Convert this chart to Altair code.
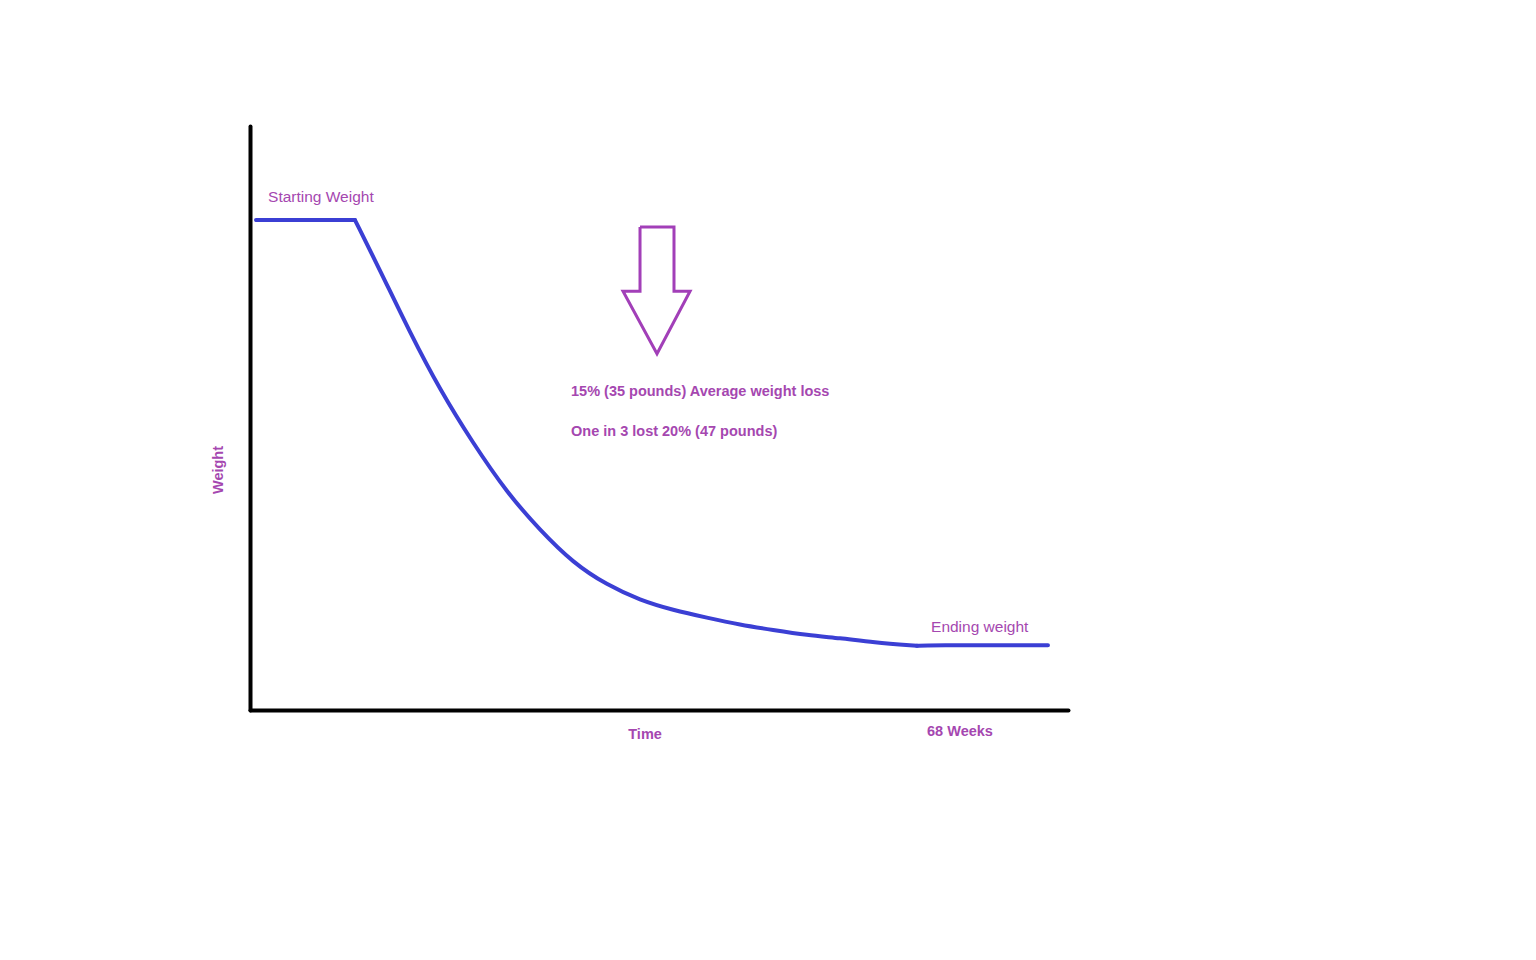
import altair as alt
import pandas as pd

# Weight-loss curve (time units along x, weight units along y), split into phases
curve_x = [0.57, 10.01,
           10.01, 12.40, 15.26, 18.12, 21.26, 24.51, 27.65, 30.80, 34.04, 37.19,
           40.34, 43.58, 46.72, 49.87, 53.11, 56.26, 59.41, 63.60,
           63.60, 64.56, 76.09]
curve_y = [83.9, 83.9,
           83.9, 75.3, 64.6, 54.8, 45.7, 37.2, 30.8, 25.2, 21.4, 18.8,
           17.1, 15.8, 14.6, 13.7, 12.8, 12.3, 11.6, 11.0,
           11.0, 11.1, 11.1]
curve_phase = ["start"] * 2 + ["loss"] * 18 + ["end"] * 3

# Down arrow outline (closed path)
arrow_x = [37.19, 40.43, 40.43, 41.96, 38.81, 35.57, 37.19, 37.19]
arrow_y = [82.7, 82.7, 71.7, 71.7, 61.0, 71.7, 71.7, 82.7]

# Annotations
reg_text = ["Starting Weight", "Ending weight"]
reg_x = [1.72, 64.94]
reg_y = [87.0, 13.4]

note_text = ["15% (35 pounds) Average weight loss", "One in 3 lost 20% (47 pounds)"]
note_x = [30.61, 30.61]
note_y = [53.8, 46.9]

center_text = ["68 Weeks", "Time"]
center_x = [67.7, 37.67]
center_y = [-4.45, -4.97]

side_text = ["Weight"]
side_x = [-2.57]
side_y = [41.1]

PURPLE = "#a547b0"
ARROW = "#a23fb8"
BLUE = "#3b3fd4"
FONT = "Liberation Sans"

xs = alt.Scale(domain=[0, 78], nice=False, zero=False)
ys = alt.Scale(domain=[0, 100], nice=False, zero=False)
ax = alt.Axis(title="", domain=True, domainColor="black", domainWidth=4,
              domainCap="round", ticks=False, labels=False, grid=False)

def X():
    return alt.X("x:Q", scale=xs, axis=ax)

def Y():
    return alt.Y("y:Q", scale=ys, axis=ax)

curve_df = pd.DataFrame({"x": curve_x, "y": curve_y, "phase": curve_phase,
                         "i": list(range(len(curve_x)))})
arrow_df = pd.DataFrame({"x": arrow_x, "y": arrow_y, "i": list(range(len(arrow_x)))})
reg_df = pd.DataFrame({"x": reg_x, "y": reg_y, "t": reg_text})
note_df = pd.DataFrame({"x": note_x, "y": note_y, "t": note_text})
center_df = pd.DataFrame({"x": center_x, "y": center_y, "t": center_text})
side_df = pd.DataFrame({"x": side_x, "y": side_y, "t": side_text})

curve = alt.Chart(curve_df).mark_line(
    color=BLUE, strokeWidth=4, strokeCap="round", strokeJoin="round",
    interpolate="basis", clip=False
).encode(x=X(), y=Y(), detail="phase:N", order="i:Q")

arrow = alt.Chart(arrow_df).mark_line(
    color=ARROW, strokeWidth=3, strokeJoin="miter", clip=False
).encode(x=X(), y=Y(), order="i:Q")

reg = alt.Chart(reg_df).mark_text(
    align="left", baseline="alphabetic", font=FONT, fontSize=15.5, color=PURPLE
).encode(x=X(), y=Y(), text="t:N")

note = alt.Chart(note_df).mark_text(
    align="left", baseline="alphabetic", font=FONT, fontSize=14.5,
    fontWeight="bold", color=PURPLE
).encode(x=X(), y=Y(), text="t:N")

center = alt.Chart(center_df).mark_text(
    align="center", baseline="alphabetic", font=FONT, fontSize=14.5,
    fontWeight="bold", color=PURPLE
).encode(x=X(), y=Y(), text="t:N")

side = alt.Chart(side_df).mark_text(
    align="center", baseline="alphabetic", font=FONT, fontSize=14.5,
    fontWeight="bold", color=PURPLE, angle=270
).encode(x=X(), y=Y(), text="t:N")

chart = alt.layer(curve, arrow, reg, note, center, side).properties(
    width=818, height=584,
    autosize=alt.AutoSizeParams(type="none"),
    padding={"left": 242, "top": 118, "right": 450, "bottom": 230},
    background="white",
).configure_view(strokeWidth=0)

chart.save("out.html", embed_options={"renderer": "svg", "actions": False})
